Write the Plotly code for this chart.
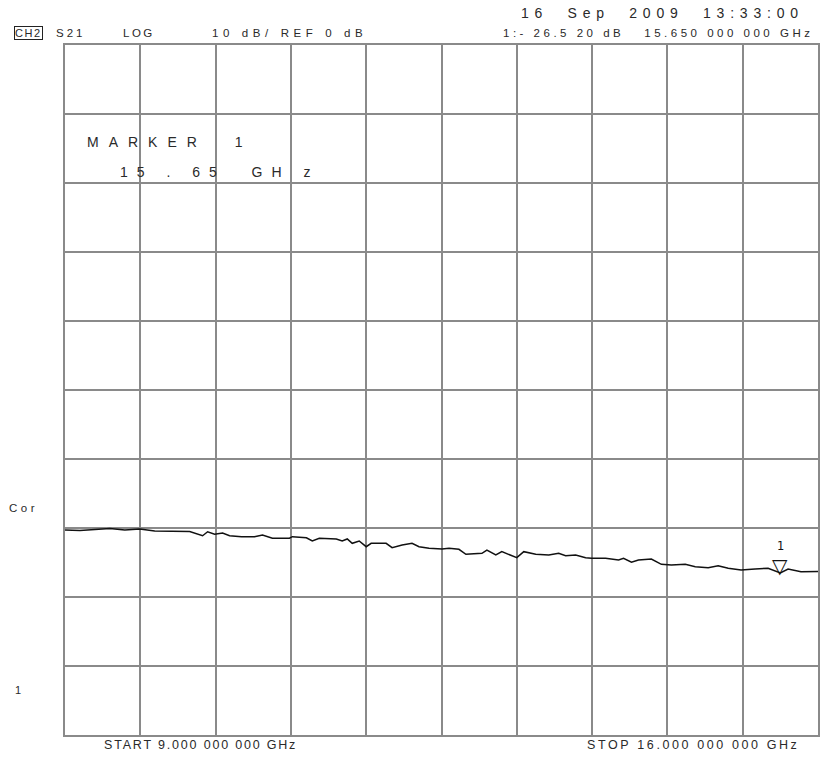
import plotly.graph_objects as go

# ---- data ----
freq_ghz = [9.000, 9.139, 9.278, 9.417, 9.556, 9.695, 9.834, 9.974, 10.159, 10.279,
            10.326, 10.391, 10.465, 10.530, 10.641, 10.762, 10.836, 10.928, 11.086, 11.114,
            11.244, 11.299, 11.364, 11.522, 11.577, 11.624, 11.670, 11.735, 11.800, 11.846,
            11.985, 12.041, 12.134, 12.226, 12.291, 12.384, 12.505, 12.570, 12.662, 12.727,
            12.876, 12.922, 13.005, 13.061, 13.144, 13.200, 13.265, 13.376, 13.497, 13.589,
            13.654, 13.747, 13.840, 13.895, 14.025, 14.146, 14.192, 14.266, 14.331, 14.451,
            14.544, 14.637, 14.766, 14.859, 14.979, 15.072, 15.165, 15.285, 15.415, 15.536,
            15.650, 15.722, 15.842, 15.972, 16.000]
s21_db = [-20.29, -20.36, -20.22, -20.07, -20.29, -20.14, -20.43, -20.51, -20.51, -21.12,
          -20.54, -20.91, -20.72, -21.12, -21.26, -21.26, -21.01, -21.49, -21.49, -21.26,
          -21.41, -21.88, -21.49, -21.59, -21.88, -21.59, -22.22, -21.88, -22.71, -22.22,
          -22.22, -22.86, -22.46, -22.22, -22.71, -22.94, -23.04, -22.94, -23.09, -23.81,
          -23.67, -23.19, -23.91, -23.43, -23.91, -24.30, -23.43, -23.81, -23.91, -23.67,
          -24.01, -23.91, -24.30, -24.39, -24.39, -24.64, -24.39, -24.97, -24.64, -24.49,
          -25.26, -25.36, -25.26, -25.61, -25.75, -25.46, -25.84, -26.09, -25.94, -25.84,
          -26.52, -25.94, -26.33, -26.23, -26.30]
marker_freq = [15.65]
marker_db = [-26.52]
x_range = [9.0, 16.0]
y_range = [-50, 50]

NB = "\u00a0"
FONT = "Liberation Sans, Arial, sans-serif"
TXT = "#2a2a2a"

fig = go.Figure()
fig.add_trace(go.Scatter(x=freq_ghz, y=s21_db, mode="lines",
                         line=dict(color="#111111", width=1.5), hoverinfo="skip"))


def ls(text, px):
    return "<span style='letter-spacing:%.1fpx'>%s</span>" % (px, text.replace(" ", NB))


def note(text, x, y, xanchor="left", size=11, **kw):
    fig.add_annotation(text=text, xref="paper", yref="paper", x=x, y=y,
                       xanchor=xanchor, yanchor="middle", showarrow=False,
                       font=dict(family=FONT, size=size, color=TXT), **kw)


# marker 1 symbol on the trace (triangle tip on the data point, label above)
fig.add_annotation(x=marker_freq[0], y=marker_db[0], xref="x", yref="y",
                   text="▽", showarrow=False, yanchor="bottom", xanchor="center",
                   yshift=-7, font=dict(family="DejaVu Sans", size=20, color="#111111"))
fig.add_annotation(x=marker_freq[0], y=marker_db[0], xref="x", yref="y",
                   text="1", showarrow=False, yanchor="bottom", xanchor="center",
                   yshift=18, font=dict(family="DejaVu Sans", size=11.5, color="#111111"))

# header
note(ls("CH2", 1.5), -0.0490, 1.0174, xanchor="center", size=11,
     bordercolor="#222222", borderwidth=1, borderpad=0)
note(ls("S21", 3), 0.0079, 1.0174, xanchor="center", size=11.5)
note(ls("LOG", 2.5), 0.098, 1.0174, xanchor="center", size=11.5)
note(ls("10 dB/ REF 0 dB", 4.6), 0.192, 1.0174, size=11.5)
note(ls("16  Sep  2009  13:33:00", 5.8), 0.984, 1.0464, xanchor="right", size=14)
note(ls("1:- 26.5 20 dB   15.650 000 000 GHz", 3.5), 0.9954, 1.0174, xanchor="right", size=11.5)

# marker box text
note(ls("MARKER  1", 10), 0.0265, 0.8594, size=14)
note(ls("15 . 65  GH z", 9), 0.0700, 0.8159, size=14)

# left side labels
note(ls("Cor", 3.5), -0.0770, 0.329, size=11.5)
note("1", -0.0623, 0.0652, xanchor="center", size=11)

# footer
note(ls("START 9.000 000 000 GHz", 1.8), 0.049, -0.0145, size=12.5)
note(ls("STOP 16.000 000 000 GHz", 2.6), 0.9775, -0.0145, xanchor="right", size=12.5)

GRID = "#8a8a8a"
fig.update_xaxes(range=x_range, dtick=0.7, tick0=9.0, showgrid=True, gridcolor=GRID,
                 gridwidth=1.5, showticklabels=False, ticks="", zeroline=False,
                 showline=True, linecolor=GRID, linewidth=2, mirror=True, fixedrange=True)
fig.update_yaxes(range=y_range, dtick=10, tick0=-50, showgrid=True, gridcolor=GRID,
                 gridwidth=1.5, showticklabels=False, ticks="", zeroline=False,
                 showline=True, linecolor=GRID, linewidth=2, mirror=True, fixedrange=True)

fig.update_layout(width=820, height=759, margin=dict(l=65, r=0, t=45, b=24),
                  paper_bgcolor="white", plot_bgcolor="white", showlegend=False)

# remove the default page margin so the 820x759 figure fills the window exactly
fig.write_html("out.html", config={"displayModeBar": False},
               post_script="document.body.style.margin='0';document.body.style.overflow='hidden';")
